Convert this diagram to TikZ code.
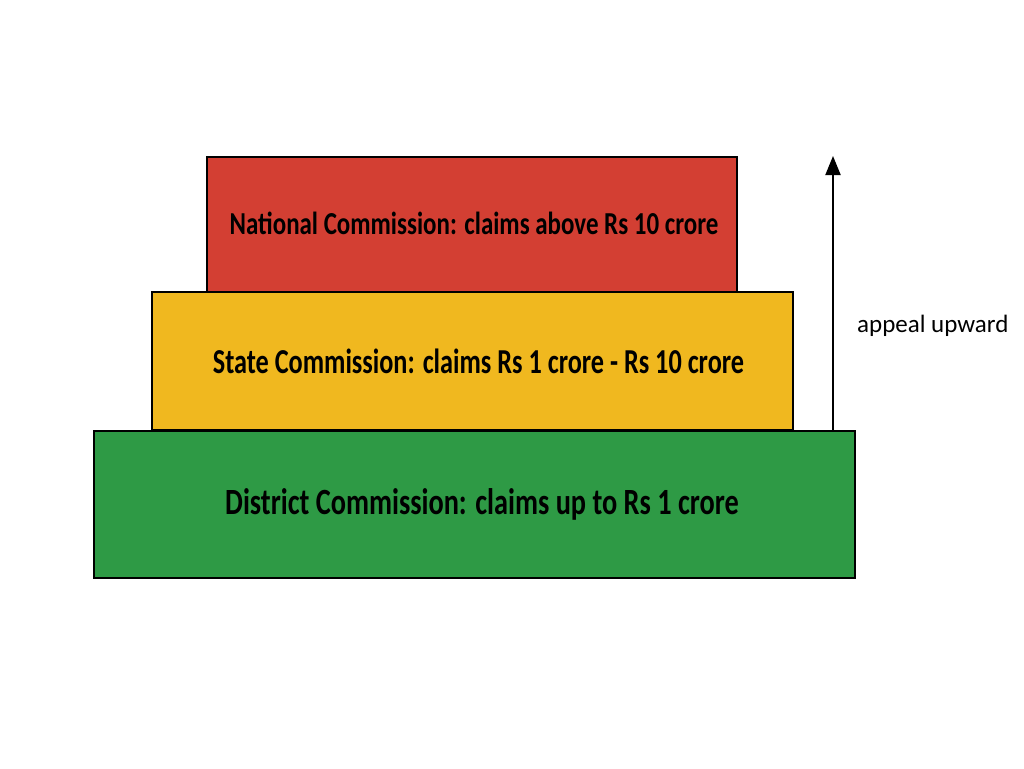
\documentclass[tikz,border=0pt]{standalone}
\usepackage{fontspec}
\setmainfont{Carlito}
\newfontfamily\natfont[FakeStretch=0.78]{Carlito}
\newfontfamily\statefont[FakeStretch=0.75]{Carlito}
\newfontfamily\distfont[FakeStretch=0.765]{Carlito}
\usetikzlibrary{arrows.meta}
\definecolor{natred}{HTML}{D33F33}
\definecolor{stateyellow}{HTML}{F0B81F}
\definecolor{distgreen}{HTML}{2E9A45}
\begin{document}
\begin{tikzpicture}[x=1pt,y=-1pt,
  tier/.style={draw=black,line width=1.8pt,inner sep=0pt,text=black}]
\useasboundingbox[fill=white] (0,0) rectangle (1024,768);
\node[tier,fill=natred,minimum width=530pt,minimum height=135pt,
  font=\natfont\bfseries\fontsize{32}{38}\selectfont] (nat) at (472,224.5) {\hspace*{4pt}\raisebox{2pt}{National Commission: claims above Rs 10 crore}};
\node[tier,fill=stateyellow,minimum width=641pt,minimum height=138pt,
  font=\statefont\bfseries\fontsize{35}{40}\selectfont] (state) at (472.5,361) {\hspace*{12pt}\raisebox{-1pt}{State Commission: claims Rs 1 crore - Rs 10 crore}};
\node[tier,fill=distgreen,minimum width=761pt,minimum height=147pt,
  font=\distfont\bfseries\fontsize{37}{42}\selectfont] (dist) at (474.5,504.5) {\hspace*{15pt}\raisebox{-5pt}{District Commission: claims up to Rs 1 crore}};
\coordinate (abot) at (833,431);
\coordinate (atop) at (833,156);
\draw[line width=2pt,-{Triangle[length=19pt,width=15pt]}] (abot) -- (atop);
\node[font=\fontsize{25}{30}\selectfont,anchor=west,inner sep=0pt] (lab) at (857,326) {appeal upward};
\end{tikzpicture}
\end{document}
